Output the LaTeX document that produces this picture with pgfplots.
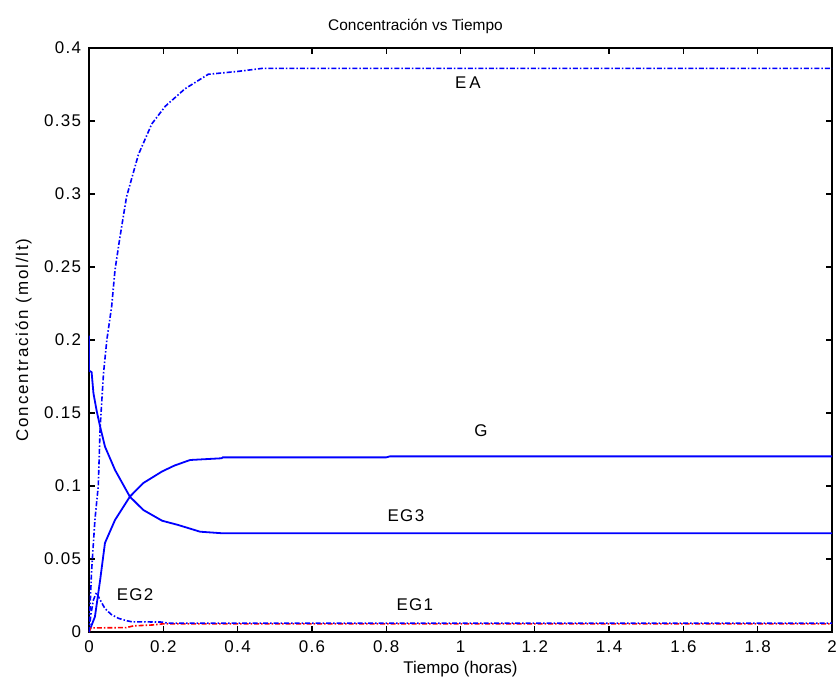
\documentclass[border=0pt]{standalone}
\usepackage{fontspec}
\setmainfont{Liberation Sans}
\newfontfamily\tickfont[LetterSpace=8]{Liberation Sans}
\newfontfamily\ylfont[LetterSpace=11]{Liberation Sans}
\usepackage{pgfplots}
\pgfplotsset{compat=1.18}
\definecolor{mblue}{RGB}{0,0,255}
\definecolor{mred}{RGB}{255,0,0}
\newcommand{\lbl}{\fontsize{17}{20}\selectfont}
\begin{document}
\lbl
\begin{tikzpicture}
\begin{axis}[
  scale only axis,
  width=743bp, height=584bp,
  xmin=0, xmax=2, ymin=0, ymax=0.4,
  xtick={0,0.2,...,2.01},
  ytick={0,0.05,...,0.401},
  xticklabels={0,0.2,0.4,0.6,0.8,1,1.2,1.4,1.6,1.8,2},
  yticklabels={0,0.05,0.1,0.15,0.2,0.25,0.3,0.35,0.4},
  /pgf/number format/assume math mode=true,
  tick align=inside,
  major tick length=6bp,
  axis line style={line width=1.6bp},
  every tick/.style={black, line width=1.3bp},
  title={Concentración vs Tiempo},
  xlabel={Tiempo (horas)},
  ylabel={Concentración (mol/lt)},
  tick label style={font=\tickfont\lbl},
  xlabel style={font=\lbl, yshift=3bp},
  ylabel style={font=\ylfont\lbl, yshift=1bp},
  title style={font=\fontsize{15.5}{18}\selectfont, yshift=2bp, xshift=-45bp},
  xticklabel style={yshift=-3bp},
  yticklabel style={xshift=-2bp},
  clip=true,
]
% EA
\addplot[mblue, line width=1.6bp, dash pattern=on 5bp off 2bp on 1.5bp off 2bp] coordinates {
(0,0) (0.007,0.042) (0.016,0.077) (0.025,0.100) (0.030,0.140) (0.039,0.177) (0.048,0.200)
(0.061,0.223) (0.070,0.248) (0.083,0.270) (0.101,0.298) (0.133,0.327) (0.169,0.348)
(0.205,0.360) (0.258,0.372) (0.321,0.382) (0.402,0.384) (0.465,0.386) (2,0.386)};
% G
\addplot[mblue, line width=1.8bp] coordinates {
(0,0) (0.016,0.0105) (0.030,0.0356) (0.043,0.061) (0.070,0.0767) (0.110,0.0927)
(0.146,0.102) (0.197,0.110) (0.230,0.114) (0.272,0.1178) (0.357,0.119) (0.36,0.1196) (0.8,0.1196) (0.81,0.1203) (2,0.1203)};
% EG3
\addplot[mblue, line width=1.8bp] coordinates {
(0,0.203) (0,0.179) (0.007,0.178) (0.012,0.1635) (0.021,0.151) (0.030,0.1406) (0.043,0.127)
(0.070,0.111) (0.110,0.0927) (0.146,0.0836) (0.197,0.0762) (0.24,0.0733) (0.299,0.0687)
(0.36,0.0676) (2,0.0676)};
% EG1
\addplot[mred, line width=1.6bp, dash pattern=on 5bp off 2bp on 1.5bp off 2bp] coordinates {
(0,0) (0.005,0.0028) (0.10,0.0030) (0.12,0.0042) (0.17,0.0048) (0.2,0.0056) (2,0.0056)};
% EG2
\addplot[mblue, line width=1.6bp, dash pattern=on 5bp off 2bp on 1.5bp off 2bp] coordinates {
(0,0) (0.005,0.012) (0.012,0.022) (0.020,0.027) (0.030,0.022) (0.043,0.016) (0.060,0.012)
(0.079,0.0094) (0.100,0.0078) (0.115,0.007) (0.2,0.0068) (0.21,0.0061) (2,0.0061)};
\node[font=\tickfont\lbl] at (axis cs:1.02,0.376) {E\,A};
\node[font=\tickfont\lbl] at (axis cs:1.055,0.1377) {G};
\node[font=\tickfont\lbl] at (axis cs:0.853,0.080) {EG3};
\node[font=\tickfont\lbl] at (axis cs:0.124,0.0253) {EG2};
\node[font=\tickfont\lbl] at (axis cs:0.877,0.0185) {EG1};
\end{axis}
\pgfresetboundingbox
\path[use as bounding box] ([shift={(-89bp,-64bp)}]current axis.south west) rectangle ([shift={(6bp,48bp)}]current axis.north east);
\end{tikzpicture}
\end{document}
